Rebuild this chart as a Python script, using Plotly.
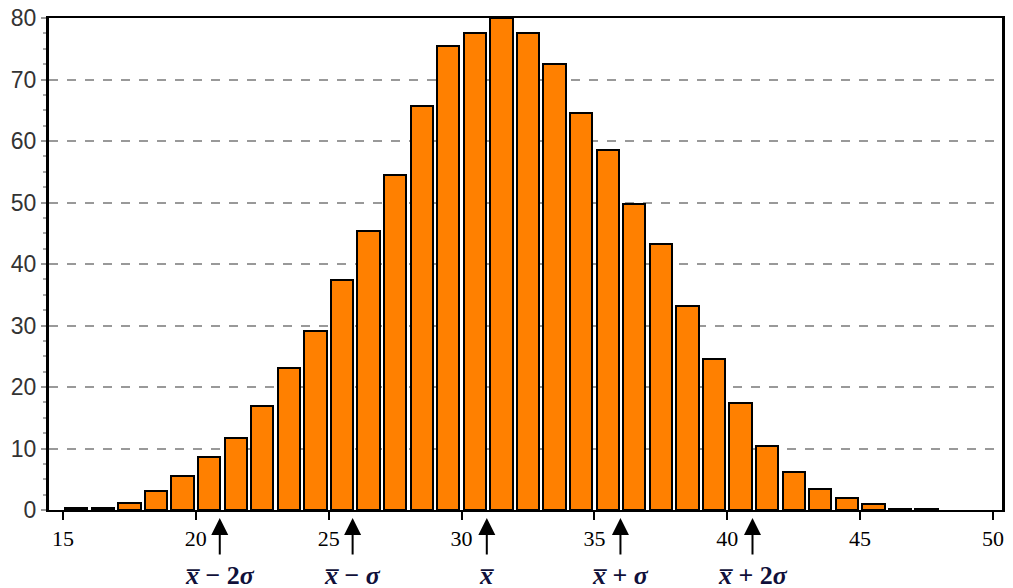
import plotly.graph_objects as go

# Histogram data (bin left edges and counts)
bins = list(range(15, 48))
counts = [0.3, 0.3, 1.1, 3.1, 5.5, 8.6, 11.7, 16.9, 23.1, 29.1, 37.4, 45.4, 54.5,
          65.7, 75.4, 77.6, 80.0, 77.6, 72.5, 64.6, 58.5, 49.8, 43.3, 33.2, 24.6,
          17.4, 10.4, 6.2, 3.4, 1.9, 0.9, 0.2, 0.2]

# Markers for mean and sigma multiples
marker_pos = [20.9, 25.9, 30.95, 35.98, 40.95]
marker_labels = ["<b><i>x̅</i> − 2<i>σ</i></b>", "<b><i>x̅</i> − <i>σ</i></b>",
                 "<b><i>x̅</i></b>", "<b><i>x̅</i> + <i>σ</i></b>",
                 "<b><i>x̅</i> + 2<i>σ</i></b>"]

x_ticks = [15, 20, 25, 30, 35, 40, 45, 50]
y_ticks = [0, 10, 20, 30, 40, 50, 60, 70, 80]

SERIF = "Liberation Serif, Times New Roman, serif"

fig = go.Figure()
fig.add_trace(go.Bar(
    x=[b + 0.5 for b in bins], y=counts, width=0.84,
    marker=dict(color="#FF8000", line=dict(color="black", width=2)),
    showlegend=False, hoverinfo="skip",
))

annotations = []
for p, lab in zip(marker_pos, marker_labels):
    annotations.append(dict(
        x=p, xref="x", y=-0.0163, yref="paper", text="", showarrow=True,
        ax=0, ay=38, arrowhead=2, arrowsize=1.7, arrowwidth=2, arrowcolor="black",
    ))
    annotations.append(dict(
        x=p, xref="x", y=-0.134, yref="paper", text=lab, showarrow=False,
        xanchor="center", yanchor="middle",
        font=dict(family=SERIF, size=26, color="#10103a"),
    ))

fig.update_layout(
    width=997, height=580,
    margin=dict(l=41, r=3, t=10, b=78, autoexpand=False),
    plot_bgcolor="white", paper_bgcolor="white",
    bargap=0,
    annotations=annotations,
    xaxis=dict(
        range=[14.473, 50.34], tickvals=x_ticks, ticktext=[str(t) for t in x_ticks],
        ticks="outside", ticklen=8, tickwidth=1.5, tickcolor="black",
        showline=True, linecolor="black", linewidth=2, mirror=True,
        showgrid=False, zeroline=False, automargin=False,
        ticklabeloverflow="allow",
        tickfont=dict(family=SERIF, size=22, color="black"),
    ),
    yaxis=dict(
        range=[0, 80], tickvals=y_ticks,
        ticks="outside", ticklen=5, tickwidth=1.5, tickcolor="#999",
        minor=dict(dtick=2.5, ticks="outside", ticklen=3, tickcolor="#aaa", showgrid=False),
        showline=True, linecolor="black", linewidth=3, mirror=True,
        showgrid=True, gridcolor="#999", griddash="dash", gridwidth=1.5,
        zeroline=False, automargin=False,
        ticklabeloverflow="allow",
        tickfont=dict(family="Liberation Sans, Arial, sans-serif", size=23, color="#333"),
    ),
)

fig.write_html("out.html")
